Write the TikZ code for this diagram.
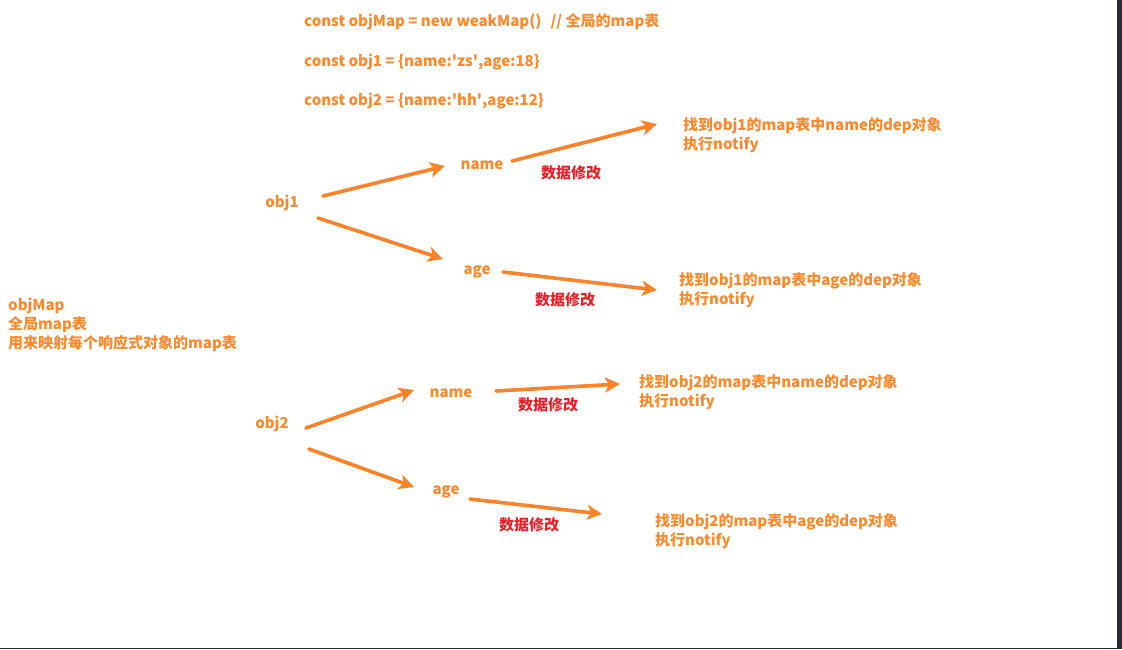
\documentclass[tikz,border=0pt]{standalone}
\usepackage{fontspec}
\setmainfont{Noto Sans CJK SC}
\usetikzlibrary{arrows.meta}
\definecolor{txtorange}{HTML}{FF8A2E}
\definecolor{arrorange}{HTML}{FF8128}
\definecolor{modred}{HTML}{E8202A}
\definecolor{darkbar}{HTML}{282B33}
\tikzset{
  lbl/.style={inner sep=0pt, yshift=-2pt, text=txtorange, font=\bfseries\fontsize{15}{19}\selectfont, align=left},
  lblw/.style={lbl, anchor=west},
  red/.style={inner sep=0pt, yshift=-1.5pt, text=modred, font=\bfseries\fontsize{15}{19}\selectfont},
  arr/.style={draw=arrorange, line width=3.6pt, line cap=round, -{Stealth[length=15pt,width=15pt,inset=4pt]}}
}
\begin{document}
\begin{tikzpicture}[x=1pt,y=-1pt]
\useasboundingbox (0,0) rectangle (1122,649);
\fill[white] (0,0) rectangle (1122,649);
\fill[darkbar] (1117,0) rectangle (1122,649);
\fill[darkbar] (0,647.5) rectangle (1122,649);

\node[lblw] (t1) at (304,20) {const objMap = new weakMap()~~\hspace{2.5pt}// 全局的map表};
\node[lblw] (t2) at (304,60) {const obj1 = \{name:\textquotesingle zs\textquotesingle,age:18\}};
\node[lblw] (t3) at (304,99) {const obj2 = \{name:\textquotesingle hh\textquotesingle,age:12\}};

\node[lblw] (objmap) at (8,323) {objMap\\全局map表\\用来映射每个响应式对象的map表};

\node[lbl] (obj1) at (282,201) {obj1};
\node[lbl] (name1) at (482,163) {name};
\node[lbl] (age1) at (477,270) {age};
\node[red] (mod1) at (571,171) {数据修改};
\node[red] (mod2) at (565,298) {数据修改};
\node[lblw] (rt1) at (683,133.5) {找到obj1的map表中name的dep对象\\执行notify};
\node[lblw] (rt2) at (679,288.5) {找到obj1的map表中age的dep对象\\执行notify};

\node[lbl] (obj2) at (272,422) {obj2};
\node[lbl] (name2) at (451,391) {name};
\node[lbl] (age2) at (446,490) {age};
\node[red] (mod3) at (548,403) {数据修改};
\node[red] (mod4) at (529,523) {数据修改};
\node[lblw] (rt3) at (639,390.5) {找到obj2的map表中name的dep对象\\执行notify};
\node[lblw] (rt4) at (655,529.5) {找到obj2的map表中age的dep对象\\执行notify};

\draw[arr] ([shift={(41,-7)}]obj1.center) -- ([shift={(-37,1)}]name1.center);
\draw[arr] ([shift={(36,15)}]obj1.center) -- ([shift={(-34,-13)}]age1.center);
\draw[arr] ([shift={(30,-4)}]name1.center) -- ([shift={(-26,-11.5)}]rt1.west);
\draw[arr] ([shift={(26,0)}]age1.center) -- ([shift={(-22,-0.5)}]rt2.west);
\draw[arr] ([shift={(34,4)}]obj2.center) -- ([shift={(-37,-3)}]name2.center);
\draw[arr] ([shift={(37,25)}]obj2.center) -- ([shift={(-32,-5)}]age2.center);
\draw[arr] ([shift={(45,-2)}]name2.center) -- ([shift={(-19,-8.5)}]rt3.west);
\draw[arr] ([shift={(24,7)}]age2.center) -- ([shift={(-53,-17.5)}]rt4.west);
\end{tikzpicture}
\end{document}
